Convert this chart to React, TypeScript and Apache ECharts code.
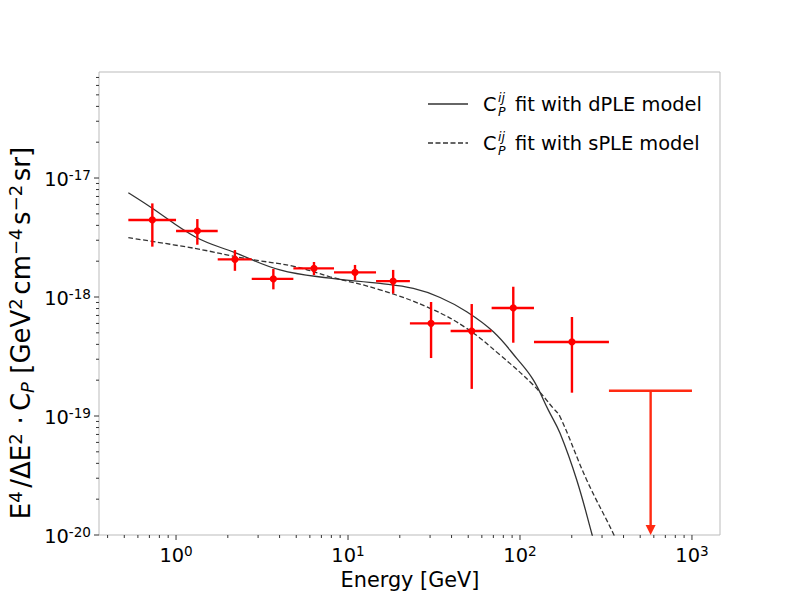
import { useEffect, useRef } from "react";
import * as echarts from "echarts";

// Axis extents in log10 units (energy in GeV, power in GeV^2 cm^-4 s^-2 sr)
const X_MIN = -0.448;
const X_MAX = 3.163;
const Y_MIN = -20;
const Y_MAX = -16.109;

// Measured anisotropy points: bin centre, bin edges, value and 1-sigma bounds
const energy = [0.728, 1.33, 2.2, 3.68, 6.34, 10.98, 18.3, 30.4, 52.4, 91.4, 200.5];
const binLow = [0.528, 1.0, 1.747, 2.755, 4.81, 8.29, 14.55, 22.9, 39.5, 68.4, 120.6];
const binHigh = [1.0, 1.747, 2.755, 4.81, 8.29, 14.55, 22.9, 39.5, 68.4, 120.6, 329];
const cp = [4.44e-18, 3.59e-18, 2.07e-18, 1.42e-18, 1.74e-18, 1.61e-18, 1.36e-18, 6.01e-19, 5.18e-19, 8.09e-19, 4.19e-19];
const cpLow = [2.65e-18, 2.75e-18, 1.66e-18, 1.16e-18, 1.53e-18, 1.39e-18, 1.07e-18, 3.07e-19, 1.69e-19, 4.13e-19, 1.57e-19];
const cpHigh = [6.12e-18, 4.52e-18, 2.48e-18, 1.72e-18, 1.97e-18, 1.86e-18, 1.69e-18, 9.08e-19, 8.73e-19, 1.22e-18, 6.79e-19];

// Upper limit in the highest-energy bin
const limitEnergy = [575];
const limitBinLow = [329];
const limitBinHigh = [1000];
const limitValue = [1.63e-19];
const limitFloor = [1e-20];

// Fitted models
const dpleEnergy = [0.528, 0.706, 1.29, 2.2, 4.02, 7.86, 15.35, 23.97, 34.3, 49.0, 70.0, 95.7, 119.5, 146.2, 171.0, 213.8, 261.4, 292];
const dpleValue = [7.52e-18, 5.74e-18, 3.21e-18, 2.36e-18, 1.69e-18, 1.44e-18, 1.3e-18, 1.18e-18, 9.91e-19, 7.52e-19, 5.1e-19, 3.05e-19, 2.01e-19, 1.12e-19, 7.16e-20, 2.9e-20, 1.03e-20, 5.6e-21];
const spleEnergy = [0.528, 1.29, 2.52, 4.92, 7.86, 15.35, 30.0, 49.0, 76.5, 119.5, 156.2, 171.0, 244.2, 348.6, 381];
const spleValue = [3.15e-18, 2.56e-18, 2.11e-18, 1.8e-18, 1.48e-18, 1.15e-18, 8.04e-19, 5.45e-19, 3.26e-19, 1.82e-19, 1.16e-19, 9.87e-20, 2.9e-20, 1.03e-20, 7.5e-21];

// Tick positions and labels
const xMajorTicks = [1, 10, 100, 1000];
const xMajorExp = ["0", "1", "2", "3"];
const yMajorTicks = [1e-20, 1e-19, 1e-18, 1e-17];
const yMajorExp = ["-20", "-19", "-18", "-17"];
const mantissas = [2, 3, 4, 5, 6, 7, 8, 9];
const xDecades = [0.1, 1, 10, 100, 1000];
const yDecades = [1e-20, 1e-19, 1e-18, 1e-17];

const RED = "#ff0000";
const LIMIT_RED = "#ff2a12";
const CURVE = "#333333";
const TICK = "#333333";
const FONT = "DejaVu Sans";

const lg = (v: number) => Math.log10(v);

export default function App() {
  const ref = useRef<HTMLDivElement>(null);

  useEffect(() => {
    if (!ref.current) return;
    const chart = echarts.init(ref.current, undefined, { renderer: "svg" });

    const points = energy.map((e, i) => [lg(e), lg(cp[i]), lg(binLow[i]), lg(binHigh[i]), lg(cpLow[i]), lg(cpHigh[i])]);
    const limits = limitEnergy.map((e, i) => [lg(e), lg(limitValue[i]), lg(limitBinLow[i]), lg(limitBinHigh[i]), lg(limitFloor[i])]);

    const xTicks: number[][] = [];
    xMajorTicks.forEach((v, i) => xTicks.push([lg(v), Y_MIN, 1, i]));
    xDecades.forEach((d) =>
      mantissas.forEach((m) => {
        const l = lg(m * d);
        if (l >= X_MIN && l <= X_MAX) xTicks.push([l, Y_MIN, 0, -1]);
      })
    );
    const yTicks: number[][] = [];
    yMajorTicks.forEach((v, i) => yTicks.push([X_MIN, lg(v), 1, i]));
    yDecades.forEach((d) =>
      mantissas.forEach((m) => {
        const l = lg(m * d);
        if (l >= Y_MIN && l <= Y_MAX) yTicks.push([X_MIN, l, 0, -1]);
      })
    );

    const tickRich = {
      b: { fontFamily: FONT, fontSize: 19.4, lineHeight: 22, color: "#000" },
      s: { fontFamily: FONT, fontSize: 13.6, lineHeight: 13, color: "#000", verticalAlign: "top" },
    };

    const legendRow = (y: number, label: string) => [
      { type: "text", x: 483, y, style: { text: "C", fontFamily: FONT, fontSize: 19.4, fill: "#000", verticalAlign: "middle" } },
      { type: "text", x: 498, y: y - 7, style: { text: "ij", fontFamily: FONT, fontStyle: "italic", fontSize: 12.5, fill: "#000", verticalAlign: "middle" } },
      { type: "text", x: 498, y: y + 7, style: { text: "P", fontFamily: FONT, fontStyle: "italic", fontSize: 12.5, fill: "#000", verticalAlign: "middle" } },
      { type: "text", x: 515, y, style: { text: label, fontFamily: FONT, fontSize: 19.4, fill: "#000", verticalAlign: "middle" } },
    ];

    const option: any = {
      animation: false,
      grid: {
        left: 99,
        top: 72,
        width: 621,
        height: 463,
        show: true,
        borderColor: "#bbbbbb",
        borderWidth: 1,
        backgroundColor: "transparent",
      },
      xAxis: {
        type: "value",
        min: X_MIN,
        max: X_MAX,
        axisLine: { show: false },
        axisTick: { show: false },
        axisLabel: { show: false },
        splitLine: { show: false },
      },
      yAxis: {
        type: "value",
        min: Y_MIN,
        max: Y_MAX,
        axisLine: { show: false },
        axisTick: { show: false },
        axisLabel: { show: false },
        splitLine: { show: false },
      },
      series: [
        {
          type: "line",
          data: dpleEnergy.map((e, i) => [lg(e), lg(dpleValue[i])]),
          showSymbol: false,
          smooth: 0.4,
          clip: true,
          lineStyle: { color: CURVE, width: 1.3 },
          z: 2,
        },
        {
          type: "line",
          data: spleEnergy.map((e, i) => [lg(e), lg(spleValue[i])]),
          showSymbol: false,
          smooth: 0.4,
          clip: true,
          lineStyle: { color: CURVE, width: 1.3, type: [5, 2.5] },
          z: 2,
        },
        {
          type: "custom",
          data: points,
          encode: { x: 0, y: 1 },
          z: 3,
          renderItem: (_p: any, api: any) => {
            const c = api.coord([api.value(0), api.value(1)]);
            const xl = api.coord([api.value(2), api.value(1)])[0];
            const xh = api.coord([api.value(3), api.value(1)])[0];
            const yl = api.coord([api.value(0), api.value(4)])[1];
            const yh = api.coord([api.value(0), api.value(5)])[1];
            const st = { stroke: RED, lineWidth: 2.4 };
            return {
              type: "group",
              children: [
                { type: "line", shape: { x1: xl, y1: c[1], x2: xh, y2: c[1] }, style: st },
                { type: "line", shape: { x1: c[0], y1: yh, x2: c[0], y2: yl }, style: st },
                { type: "circle", shape: { cx: c[0], cy: c[1], r: 3.6 }, style: { fill: RED } },
              ],
            };
          },
        },
        {
          type: "custom",
          data: limits,
          encode: { x: 0, y: 1 },
          z: 3,
          renderItem: (_p: any, api: any) => {
            const c = api.coord([api.value(0), api.value(1)]);
            const xl = api.coord([api.value(2), api.value(1)])[0];
            const xh = api.coord([api.value(3), api.value(1)])[0];
            const tip = api.coord([api.value(0), api.value(4)])[1];
            const st = { stroke: LIMIT_RED, lineWidth: 2.4 };
            return {
              type: "group",
              children: [
                { type: "line", shape: { x1: xl, y1: c[1], x2: xh, y2: c[1] }, style: st },
                { type: "line", shape: { x1: c[0], y1: c[1], x2: c[0], y2: tip - 9 }, style: st },
                {
                  type: "polygon",
                  shape: { points: [[c[0] - 5, tip - 10], [c[0] + 5, tip - 10], [c[0], tip]] },
                  style: { fill: LIMIT_RED },
                },
              ],
            };
          },
        },
        {
          type: "custom",
          data: xTicks,
          encode: { x: 0, y: 1 },
          silent: true,
          z: 4,
          renderItem: (_p: any, api: any) => {
            const c = api.coord([api.value(0), Y_MIN]);
            const major = api.value(2) === 1;
            const len = major ? 5 : 3;
            const children: any[] = [
              { type: "line", shape: { x1: c[0], y1: c[1], x2: c[0], y2: c[1] + len }, style: { stroke: TICK, lineWidth: 1 } },
            ];
            if (major) {
              const idx = api.value(3);
              children.push({
                type: "text",
                x: c[0],
                y: c[1] + 9,
                style: {
                  text: `{b|10}{s|${xMajorExp[idx]}}`,
                  rich: tickRich,
                  align: "center",
                  verticalAlign: "top",
                },
              });
            }
            return { type: "group", children };
          },
        },
        {
          type: "custom",
          data: yTicks,
          encode: { x: 0, y: 1 },
          silent: true,
          z: 4,
          renderItem: (_p: any, api: any) => {
            const c = api.coord([X_MIN, api.value(1)]);
            const major = api.value(2) === 1;
            const len = major ? 5 : 3;
            const children: any[] = [
              { type: "line", shape: { x1: c[0] - len, y1: c[1], x2: c[0], y2: c[1] }, style: { stroke: TICK, lineWidth: 1 } },
            ];
            if (major) {
              const idx = api.value(3);
              children.push({
                type: "text",
                x: c[0] - 8,
                y: c[1] + 1,
                style: {
                  text: `{b|10}{s|${yMajorExp[idx]}}`,
                  rich: tickRich,
                  align: "right",
                  verticalAlign: "middle",
                },
              });
            }
            return { type: "group", children };
          },
        },
      ],
      graphic: [
        // axis titles
        {
          type: "text",
          x: 410,
          y: 580,
          style: {
            text: "Energy [GeV]",
            fontFamily: FONT,
            fontSize: 20.8,
            fill: "#000",
            align: "center",
            verticalAlign: "middle",
          },
        },
        {
          type: "text",
          x: 21,
          y: 333,
          rotation: Math.PI / 2,
          style: {
            text: "{b|E}{p|4\u2009}{b|/ΔE}{p|2\u2009}{b|\u2009·\u2009C}{q|P}{b| [GeV}{p|2\u2009}{b|cm}{p|−4\u2009}{b|s}{p|−2\u2009}{b|sr]}",
            fontFamily: FONT,
            fontSize: 26,
            align: "center",
            verticalAlign: "middle",
            rich: {
              b: { fontFamily: FONT, fontSize: 26, lineHeight: 30, color: "#000" },
              p: { fontFamily: FONT, fontSize: 18, lineHeight: 17, color: "#000", verticalAlign: "top" },
              q: { fontFamily: FONT, fontSize: 18, fontStyle: "italic", lineHeight: 15, color: "#000", verticalAlign: "bottom" },
            },
          },
        },
        // legend
        { type: "line", shape: { x1: 428, y1: 104, x2: 468, y2: 104 }, style: { stroke: CURVE, lineWidth: 1.3 } },
        ...legendRow(104, "fit with dPLE model"),
        { type: "line", shape: { x1: 428, y1: 143, x2: 468, y2: 143 }, style: { stroke: CURVE, lineWidth: 1.3, lineDash: [5, 2.5] } },
        ...legendRow(143, "fit with sPLE model"),
      ],
    };

    chart.setOption(option);
    return () => chart.dispose();
  }, []);

  return (
    <div
      ref={ref}
      style={{ position: "fixed", left: 0, top: 0, width: 800, height: 600, background: "#fff" }}
    />
  );
}
